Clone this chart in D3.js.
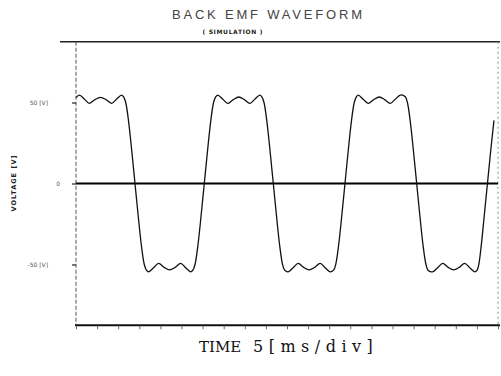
<!DOCTYPE html>
<html>
<head>
<meta charset="utf-8">
<script src="https://cdn.jsdelivr.net/npm/d3@7"></script>
<style>
  html, body { margin: 0; padding: 0; background: #fff; }
  svg { display: block; }
</style>
</head>
<body>
<div id="chart"></div>
<script>
// ---- data ----
const title = "BACK EMF WAVEFORM";
const subtitle = "( SIMULATION )";
const xTitleParts = ["TIME", "5[ms/div]"];
const yTitle = "VOLTAGE [V]";
const yTickValues = [50, 0, -50];
const yTickLabels = ["50 [V]", "0", "-50 [V]"];
const xDomain = [0, 100];          // ms, 20 divisions of 5 ms
const xTickStep = 5;
const yDomain = [-87.5, 87.5];     // V

// time (ms)
const timeMs = [
  0.00, 0.82, 2.01, 3.19, 4.50, 5.80, 7.10, 8.41, 9.59, 10.78, 11.28, 11.78, 12.43, 13.18, 13.98,
  14.78, 15.53, 16.18, 16.68, 17.21, 18.40, 19.58, 20.89, 22.19, 23.49, 24.80, 25.98, 27.17, 27.70, 28.20, 28.85, 29.60, 30.40,
  31.20, 31.95, 32.60, 33.10, 33.60, 34.79, 35.97, 37.28, 38.58, 39.88, 41.19, 42.37, 43.56, 44.05, 44.55, 45.20, 45.95, 46.75,
  47.55, 48.30, 48.95, 49.45, 50.27, 51.46, 52.64, 53.95, 55.25, 56.55, 57.86, 59.04, 60.23, 61.04, 61.54, 62.19, 62.94, 63.74,
  64.54, 65.29, 65.94, 66.44, 66.90, 68.05, 69.25, 70.55, 71.85, 73.15, 74.45, 75.65, 76.85, 78.03, 78.53, 79.18, 79.93, 80.73,
  81.53, 82.28, 82.93, 83.43, 84.50, 85.70, 86.90, 88.20, 89.50, 90.80, 92.10, 93.30, 94.50, 95.05, 95.45, 96.00, 96.70, 97.50,
  98.30, 99.05
];
// back EMF (V)
const voltageV = [
  53.0, 54.6, 52.0, 49.5, 51.8, 53.2, 51.8, 49.5, 52.0, 54.6, 53.5, 50.0, 39.0, 21.0, 0,
  -21, -39, -50, -53.5, -54.5, -52.0, -49.3, -51.8, -53.3, -51.8, -49.3, -52.0, -54.5, -53.5, -50, -39, -21, 0,
  21, 39, 50, 53.5, 54.6, 52.0, 49.5, 51.8, 53.4, 51.8, 49.5, 52.0, 54.6, 53.5, 50, 39, 21, 0,
  -21, -39, -50, -53.5, -54.5, -52.0, -49.3, -51.8, -53.3, -51.8, -49.3, -52.0, -54.5, -53.5, -50, -39, -21, 0,
  21, 39, 50, 53.5, 54.6, 52.0, 49.5, 51.8, 53.4, 51.8, 49.5, 52.0, 54.6, 53.5, 50, 39, 21, 0,
  -21, -39, -50, -53.5, -54.5, -52.0, -49.3, -51.8, -53.3, -51.8, -49.3, -52.0, -54.5, -53.5, -50, -39, -21, 0,
  21, 39
];

// ---- drawing ----
const W = 501, H = 376;
const svg = d3.select("#chart").append("svg").attr("width", W).attr("height", H);

const x = d3.scaleLinear().domain(xDomain).range([76, 498]);
const y = d3.scaleLinear().domain(yDomain).range([325.25, 41.75]);

// title
svg.append("text")
  .attr("x", 267).attr("y", 19)
  .attr("text-anchor", "middle")
  .attr("font-family", "'Liberation Sans', Arial, sans-serif")
  .attr("font-size", 13).attr("fill", "#444")
  .attr("textLength", 190).attr("lengthAdjust", "spacing")
  .text(title);
svg.append("text")
  .attr("x", 232.5).attr("y", 34)
  .attr("text-anchor", "middle")
  .attr("font-family", "'DejaVu Sans', sans-serif")
  .attr("font-size", 6).attr("font-weight", "bold").attr("fill", "#222")
  .attr("textLength", 60).attr("lengthAdjust", "spacing")
  .text(subtitle);

// frame: top and side lines
svg.append("line")
  .attr("x1", 60).attr("x2", 500).attr("y1", y(yDomain[1])).attr("y2", y(yDomain[1]))
  .attr("stroke", "#222").attr("stroke-width", 1.4);
svg.append("line")
  .attr("x1", x(xDomain[0])).attr("x2", x(xDomain[0])).attr("y1", y(yDomain[1])).attr("y2", y(yDomain[0]))
  .attr("stroke", "#555").attr("stroke-width", 1).attr("stroke-dasharray", "4,2");
svg.append("line")
  .attr("x1", x(xDomain[1])).attr("x2", x(xDomain[1])).attr("y1", y(yDomain[1])).attr("y2", y(yDomain[0]))
  .attr("stroke", "#888").attr("stroke-width", 1).attr("stroke-dasharray", "2,3");

// bottom axis with division ticks
const xAxis = d3.axisBottom(x)
  .tickValues(d3.range(xDomain[0], xDomain[1] + 0.001, xTickStep))
  .tickSize(4).tickSizeOuter(0).tickFormat("");
const gx = svg.append("g").attr("transform", `translate(0,${y(yDomain[0])})`).call(xAxis);
gx.select(".domain").attr("stroke", "#111").attr("stroke-width", 1.8)
  .attr("d", `M75,0H500`);
gx.selectAll(".tick line").attr("stroke", "#444").attr("stroke-width", 0.8);

// left ticks and labels
const yAxis = d3.axisLeft(y).tickValues(yTickValues).tickSize(4)
  .tickFormat((d, i) => yTickLabels[i]);
const gy = svg.append("g").attr("transform", `translate(${x(xDomain[0])},0)`).call(yAxis);
gy.select(".domain").remove();
gy.selectAll(".tick line").attr("stroke", "#222").attr("stroke-width", 1.2);
gy.selectAll(".tick text")
  .attr("font-family", "'DejaVu Sans', sans-serif")
  .attr("font-size", 6).attr("fill", "#555")
  .attr("x", (d) => d === 0 ? -16 : -28);

// y title
svg.append("text")
  .attr("transform", `translate(16,${y(0)}) rotate(-90)`)
  .attr("text-anchor", "middle")
  .attr("font-family", "'DejaVu Sans', sans-serif")
  .attr("font-size", 6.5).attr("font-weight", "bold").attr("fill", "#222")
  .attr("textLength", 56).attr("lengthAdjust", "spacing")
  .text(yTitle);

// x title
const xt = svg.append("text")
  .attr("y", 352)
  .attr("font-family", "'DejaVu Serif', 'Liberation Serif', serif")
  .attr("font-size", 15).attr("fill", "#111");
xt.append("tspan").attr("x", 199).text(xTitleParts[0]);
xt.append("tspan").attr("x", 253).attr("letter-spacing", 5.5).attr("font-size", 16).text(xTitleParts[1]);

// zero line
svg.append("line")
  .attr("x1", x(xDomain[0])).attr("x2", x(xDomain[1])).attr("y1", y(0)).attr("y2", y(0))
  .attr("stroke", "#000").attr("stroke-width", 1.8);

// waveform
const pts = timeMs.map((t, i) => [t, voltageV[i]]);
const line = d3.line()
  .x(d => x(d[0])).y(d => y(d[1]))
  .curve(d3.curveCatmullRom.alpha(0.5));
svg.append("path")
  .datum(pts)
  .attr("d", line)
  .attr("fill", "none")
  .attr("stroke", "#111")
  .attr("stroke-width", 1.3);
</script>
</body>
</html>
